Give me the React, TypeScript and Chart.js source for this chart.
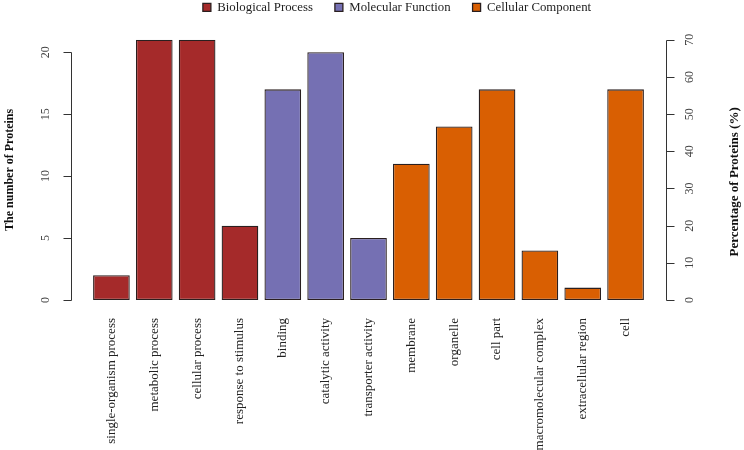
import React, { useEffect, useRef } from "react";
import { Chart, registerables } from "chart.js";

Chart.register(...registerables);

const categories = [
  "single-organism process",
  "metabolic process",
  "cellular process",
  "response to stimulus",
  "binding",
  "catalytic activity",
  "transporter activity",
  "membrane",
  "organelle",
  "cell part",
  "macromolecular complex",
  "extracellular region",
  "cell",
];
const counts = [2, 21, 21, 6, 17, 20, 5, 11, 14, 17, 4, 1, 17];
const groups = [0, 0, 0, 0, 1, 1, 1, 2, 2, 2, 2, 2, 2];
const groupNames = ["Biological Process", "Molecular Function", "Cellular Component"];
const groupColors = ["#A52A2A", "#7570B3", "#D95F02"];
const countTicks = [0, 5, 10, 15, 20];
const percentTicks = [0, 10, 20, 30, 40, 50, 60, 70];
const totalProteins = 30;

const FONT = "'Liberation Serif', 'Times New Roman', serif";

const rAxesPlugin = {
  id: "rAxes",
  afterDraw(chart: any) {
    const { ctx, chartArea, scales } = chart;
    const y = scales.y;
    const y2 = scales.y2;
    ctx.save();
    ctx.strokeStyle = "#333";
    ctx.lineWidth = 1;
    ctx.fillStyle = "#444";
    ctx.font = `12px ${FONT}`;
    ctx.textAlign = "center";
    ctx.textBaseline = "middle";

    // left axis
    const lx = Math.round(chartArea.left - 19) + 0.5;
    const lTop = Math.round(y.getPixelForValue(countTicks[countTicks.length - 1])) + 0.5;
    const lBot = Math.round(y.getPixelForValue(countTicks[0])) + 0.5;
    ctx.beginPath();
    ctx.moveTo(lx, lTop);
    ctx.lineTo(lx, lBot);
    countTicks.forEach((v) => {
      const py = Math.round(y.getPixelForValue(v)) + 0.5;
      ctx.moveTo(lx, py);
      ctx.lineTo(lx - 8, py);
    });
    ctx.stroke();
    countTicks.forEach((v) => {
      const py = y.getPixelForValue(v);
      ctx.save();
      ctx.translate(lx - 26, py);
      ctx.rotate(-Math.PI / 2);
      ctx.fillText(String(v), 0, 0);
      ctx.restore();
    });

    // right axis
    const rx = Math.round(chartArea.right + 19) + 0.5;
    const rTop = Math.round(y2.getPixelForValue(percentTicks[percentTicks.length - 1])) + 0.5;
    const rBot = Math.round(y2.getPixelForValue(percentTicks[0])) + 0.5;
    ctx.beginPath();
    ctx.moveTo(rx, rTop);
    ctx.lineTo(rx, rBot);
    percentTicks.forEach((v) => {
      const py = Math.round(y2.getPixelForValue(v)) + 0.5;
      ctx.moveTo(rx, py);
      ctx.lineTo(rx + 8, py);
    });
    ctx.stroke();
    percentTicks.forEach((v) => {
      const py = y2.getPixelForValue(v);
      ctx.save();
      ctx.translate(rx + 23, py);
      ctx.rotate(-Math.PI / 2);
      ctx.fillText(String(v), 0, 0);
      ctx.restore();
    });

    // axis titles
    ctx.fillStyle = "#111";
    ctx.font = `bold 12px ${FONT}`;
    const midY = (chartArea.top + chartArea.bottom) / 2;
    ctx.save();
    ctx.translate(10, midY);
    ctx.rotate(-Math.PI / 2);
    ctx.fillText("The number of Proteins", 0, 0);
    ctx.restore();
    ctx.font = `bold 13px ${FONT}`;
    ctx.save();
    ctx.translate(735, midY + 12);
    ctx.rotate(-Math.PI / 2);
    ctx.fillText("Percentage of Proteins (%)", 0, 0);
    ctx.restore();

    ctx.restore();
  },
};

export default function App() {
  const ref = useRef<HTMLCanvasElement | null>(null);

  useEffect(() => {
    document.body.style.margin = "0";
    const canvas = ref.current;
    if (!canvas) return;
    const datasets = groupNames.map((name, g) => ({
      label: name,
      data: counts.map((c, i) => (groups[i] === g ? c : null)),
      backgroundColor: groupColors[g],
      borderColor: "#2a1f1f",
      borderWidth: 1.3,
      borderSkipped: false,
      grouped: false,
      categoryPercentage: 1,
      barPercentage: 0.856,
      yAxisID: "y",
      xAxisID: "x",
    }));
    const chart = new Chart(canvas, {
      type: "bar",
      data: { labels: categories, datasets },
      plugins: [rAxesPlugin],
      options: {
        responsive: false,
        animation: false,
        layout: { padding: { top: -21, left: 50, right: 0, bottom: 0 } },
        plugins: {
          tooltip: { enabled: false },
          legend: {
            position: "top",
            labels: {
              boxWidth: 8,
              boxHeight: 8,
              padding: 22,
              color: "#222",
              font: { family: FONT, size: 12.8 },
            },
          },
        },
        scales: {
          x: {
            type: "category",
            position: "bottom",
            grid: { display: false, drawTicks: false },
            border: { display: false },
            ticks: {
              autoSkip: false,
              minRotation: 90,
              maxRotation: 90,
              padding: 18,
              color: "#222",
              font: { family: FONT, size: 13 },
            },
            afterFit: (s: any) => {
              s.height = 150;
            },
          },
          xTop: {
            type: "category",
            position: "top",
            grid: { display: false, drawTicks: false },
            border: { display: false },
            ticks: { display: false },
            afterFit: (s: any) => {
              s.height = 16;
            },
          },
          y: {
            type: "linear",
            position: "left",
            min: 0,
            max: 21,
            grid: { display: false, drawTicks: false },
            border: { display: false },
            ticks: { display: false, stepSize: 5, includeBounds: false },
            afterFit: (s: any) => {
              s.width = 40;
            },
          },
          y2: {
            type: "linear",
            position: "right",
            min: 0,
            max: (21 / totalProteins) * 100,
            grid: { display: false, drawTicks: false },
            border: { display: false },
            ticks: { display: false, stepSize: 10 },
            afterFit: (s: any) => {
              s.width = 97;
            },
          },
        },
      },
    });
    return () => chart.destroy();
  }, []);

  return (
    <div style={{ width: 744, height: 450, background: "#fff" }}>
      <canvas ref={ref} width={744} height={450} />
    </div>
  );
}
